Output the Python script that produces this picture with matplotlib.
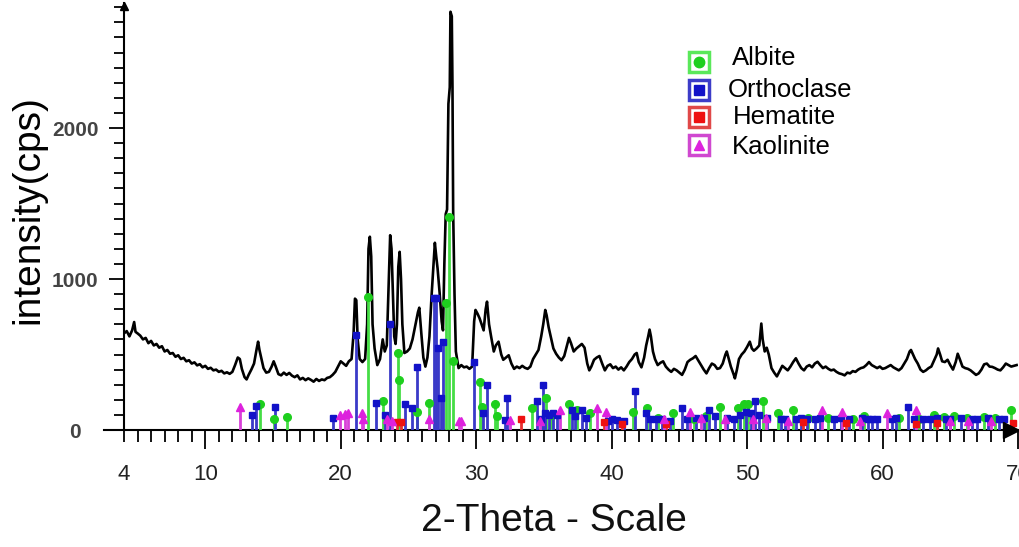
import matplotlib
matplotlib.use('Agg')
import matplotlib.pyplot as plt
from matplotlib.ticker import MultipleLocator

# 衍射曲线 (2θ, cps)
two_theta = [
    4.0, 4.2, 4.4, 4.6, 4.75, 4.85, 5.0, 5.2, 5.4, 5.6,
    5.8, 6.0, 6.2, 6.4, 6.6, 6.8, 7.0, 7.2, 7.4, 7.6,
    7.8, 8.0, 8.2, 8.4, 8.6, 8.8, 9.0, 9.2, 9.4, 9.6,
    9.8, 10.0, 10.2, 10.4, 10.6, 10.8, 11.0, 11.2, 11.4, 11.6,
    11.8, 12.0, 12.2, 12.4, 12.55, 12.7, 12.9, 13.05, 13.2, 13.4,
    13.6, 13.8, 13.9, 14.0, 14.15, 14.3, 14.5, 14.7, 14.9, 15.05,
    15.2, 15.4, 15.6, 15.8, 16.0, 16.2, 16.4, 16.6, 16.8, 17.0,
    17.2, 17.4, 17.6, 17.8, 18.0, 18.2, 18.4, 18.6, 18.8, 19.0,
    19.2, 19.4, 19.6, 19.8, 20.0, 20.2, 20.4, 20.6, 20.8, 20.95,
    21.05, 21.15, 21.25, 21.4, 21.6, 21.8, 21.95, 22.05, 22.15, 22.25,
    22.35, 22.5, 22.7, 22.9, 23.1, 23.25, 23.4, 23.55, 23.65, 23.75,
    23.85, 23.95, 24.05, 24.15, 24.25, 24.35, 24.45, 24.55, 24.7, 24.9,
    25.1, 25.3, 25.5, 25.7, 25.8, 25.95, 26.1, 26.25, 26.4, 26.55,
    26.7, 26.85, 26.95, 27.05, 27.15, 27.3, 27.45, 27.55, 27.65, 27.75,
    27.85, 27.95, 28.05, 28.1, 28.2, 28.25, 28.3, 28.4, 28.5, 28.7,
    28.9, 29.1, 29.3, 29.5, 29.7, 29.85, 29.95, 30.1, 30.25, 30.4,
    30.55, 30.7, 30.8, 30.95, 31.1, 31.3, 31.45, 31.65, 31.85, 32.0,
    32.2, 32.4, 32.6, 32.8, 33.0, 33.2, 33.4, 33.6, 33.8, 34.0,
    34.2, 34.4, 34.6, 34.8, 34.95, 35.1, 35.2, 35.35, 35.5, 35.7,
    35.9, 36.1, 36.3, 36.5, 36.7, 36.85, 37.0, 37.2, 37.4, 37.6,
    37.8, 38.0, 38.2, 38.35, 38.5, 38.7, 38.9, 39.1, 39.3, 39.5,
    39.7, 39.9, 40.1, 40.3, 40.5, 40.7, 40.9, 41.1, 41.3, 41.5,
    41.7, 41.85, 42.0, 42.2, 42.4, 42.55, 42.7, 42.8, 42.9, 43.05,
    43.2, 43.4, 43.6, 43.8, 44.0, 44.2, 44.4, 44.6, 44.8, 45.0,
    45.2, 45.4, 45.6, 45.8, 46.0, 46.2, 46.4, 46.6, 46.8, 47.0,
    47.2, 47.4, 47.6, 47.8, 48.0, 48.2, 48.4, 48.5, 48.65, 48.8,
    49.0, 49.1, 49.25, 49.4, 49.6, 49.8, 50.0, 50.2, 50.35, 50.5,
    50.7, 50.9, 51.0, 51.05, 51.15, 51.3, 51.45, 51.6, 51.8, 52.0,
    52.2, 52.4, 52.6, 52.8, 53.0, 53.2, 53.4, 53.6, 53.8, 54.0,
    54.2, 54.4, 54.6, 54.8, 55.0, 55.2, 55.4, 55.6, 55.8, 56.0,
    56.2, 56.4, 56.6, 56.8, 57.0, 57.2, 57.4, 57.6, 57.8, 58.0,
    58.2, 58.4, 58.6, 58.8, 59.0, 59.2, 59.4, 59.6, 59.8, 60.0,
    60.2, 60.4, 60.6, 60.8, 61.0, 61.2, 61.4, 61.6, 61.8, 62.0,
    62.1, 62.25, 62.4, 62.6, 62.8, 63.0, 63.2, 63.4, 63.6, 63.8,
    64.0, 64.1, 64.25, 64.4, 64.6, 64.8, 65.0, 65.2, 65.4, 65.55,
    65.7, 65.9, 66.1, 66.3, 66.5, 66.7, 66.9, 67.1, 67.3, 67.5,
    67.7, 67.9, 68.1, 68.3, 68.5, 68.7, 68.9, 69.1, 69.3, 69.5,
    69.7, 69.9,
]
intensity = [
    640, 655, 620, 660, 715, 650, 640, 625, 600, 610,
    575, 590, 560, 570, 545, 555, 520, 530, 505, 510,
    485, 495, 470, 478, 455, 462, 440, 448, 428, 436,
    415, 425, 405, 412, 395, 400, 385, 392, 375, 382,
    372, 385, 430, 480, 470, 405, 350, 335, 365, 400,
    440, 540, 585, 530, 470, 410, 380, 385, 420, 455,
    420, 370, 362, 380, 365, 378, 360, 350, 362, 335,
    345, 330, 342, 332, 320, 338, 325, 335, 330, 345,
    350, 365, 385, 420, 455, 440, 425, 455, 470, 640,
    870, 860, 600, 470, 450, 470, 700, 1200, 1280, 1150,
    700, 540, 430, 470, 600, 520, 560, 1000, 1290, 1200,
    900, 620, 570, 700, 1080, 1180, 1000, 700, 510, 520,
    540, 600, 690, 780, 810, 640, 480, 420, 480, 620,
    880, 1100, 1240, 1150, 1070, 910, 720, 660, 1100, 1430,
    1460, 2160, 2270, 2770, 2740, 2270, 1450, 900, 520, 410,
    430, 415, 420, 405, 420, 720, 795, 770, 740, 700,
    660, 800, 850, 700, 620, 520, 560, 585, 500, 465,
    480, 495, 440, 405, 420, 410, 425, 412, 405, 420,
    470, 500, 530, 620, 700, 795, 760, 680, 620, 540,
    505, 480, 462, 490, 560, 610, 575, 520, 540, 555,
    570, 545, 440, 395, 420, 465, 480, 490, 440, 395,
    425, 435, 410, 420, 400, 415, 395, 420, 450, 470,
    500, 510, 450, 415, 480, 560, 620, 665, 620, 520,
    470, 430, 445, 455, 420, 400, 385, 405, 395, 380,
    365, 400, 450, 465, 475, 490, 460, 430, 400, 375,
    410, 440, 430, 405, 410, 440, 500, 520, 470, 420,
    370, 342, 400, 470, 500, 520, 550, 585, 540, 525,
    540, 560, 660, 705, 600, 520, 545, 500, 410, 380,
    355, 390, 425, 410, 395, 420, 450, 475, 440, 410,
    395, 420, 430, 415, 440, 452, 430, 410, 420, 405,
    395, 400, 385, 375, 370, 362, 380, 375, 390, 385,
    400, 410, 415, 430, 450, 430, 420, 410, 420, 405,
    410, 420, 430, 415, 405, 395, 410, 440, 470, 520,
    530, 500, 470, 440, 400, 385, 395, 410, 420, 460,
    500, 540, 500, 455, 450, 465, 430, 400, 450, 505,
    470, 420, 410, 405, 395, 380, 365, 375, 400, 435,
    440, 420, 418, 410, 400, 395, 415, 440, 430, 420,
    425, 430,
]

# 物相标准卡片 (峰位, 高度)
albite_pos = [14.05, 15.1, 16.0, 22.05, 23.15, 24.25, 24.3, 25.6, 26.55, 27.8,
              28.0, 28.3, 30.25, 30.45, 31.4, 31.55, 34.1, 35.15, 35.5, 36.85,
              37.45, 38.4, 41.55, 42.6, 43.4, 44.5, 46.1, 47.0, 48.0, 49.3,
              49.8, 50.05, 51.2, 52.3, 53.4, 54.5, 56.0, 57.8, 58.6, 61.2,
              62.7, 63.8, 64.5, 65.3, 66.2, 67.5, 68.3, 69.5]
albite_int = [175, 70, 88, 880, 195, 510, 330, 120, 180, 840,
              1410, 455, 320, 150, 175, 90, 145, 210, 100, 175,
              130, 110, 120, 145, 80, 110, 70, 90, 155, 145,
              175, 175, 190, 110, 130, 80, 80, 70, 90, 80,
              70, 100, 85, 90, 80, 85, 80, 130]

orthoclase_pos = [13.45, 13.75, 15.15, 19.45, 21.12, 22.6, 23.26, 23.63, 24.74, 25.23,
                  25.6, 26.85, 27.05, 27.15, 27.4, 27.55, 29.83, 30.5, 30.77, 32.1,
                  32.3, 34.46, 34.75, 34.9, 35.1, 35.4, 35.7, 36.0, 37.1, 37.3,
                  37.8, 38.1, 39.7, 40.0, 40.4, 40.9, 41.7, 42.55, 42.8, 43.3,
                  43.7, 44.3, 45.2, 45.6, 46.2, 46.8, 47.2, 47.6, 48.5, 49.0,
                  49.5, 49.9, 50.3, 50.6, 50.85, 51.5, 52.5, 52.8, 53.6, 54.0,
                  54.4, 55.0, 55.4, 56.4, 56.9, 57.5, 58.5, 58.9, 59.2, 59.6,
                  60.7, 61.0, 61.9, 62.3, 63.0, 63.5, 64.0, 64.7, 65.0, 65.8,
                  66.6, 67.0, 67.8, 68.6, 69.0]
orthoclase_int = [100, 160, 150, 77, 630, 180, 100, 705, 175, 145,
                  415, 875, 875, 540, 210, 585, 452, 110, 298, 66,
                  210, 195, 70, 298, 110, 100, 110, 100, 130, 90,
                  130, 80, 60, 70, 65, 60, 255, 115, 75, 70,
                  70, 60, 145, 70, 80, 80, 130, 90, 80, 75,
                  100, 120, 110, 190, 100, 80, 70, 75, 70, 80,
                  75, 70, 80, 75, 80, 70, 80, 70, 75, 70,
                  70, 80, 155, 70, 75, 70, 80, 75, 70, 80,
                  75, 70, 80, 70, 75]

hematite_pos = [24.15, 24.45, 33.3, 39.4, 40.8, 44.0, 54.1, 57.3, 62.5, 64.0, 69.6]
hematite_int = [55, 50, 70, 55, 40, 40, 50, 45, 40, 45, 45]

kaolinite_pos = [12.55, 19.95, 20.3, 20.55, 21.55, 21.65, 23.45, 23.8, 26.55, 28.7,
                 28.85, 32.5, 34.7, 36.2, 38.9, 39.6, 43.9, 45.8, 46.6, 48.4,
                 50.4, 51.4, 53.0, 55.5, 57.0, 58.3, 60.3, 62.5, 65.0, 66.3, 68.0]
kaolinite_int = [155, 99, 105, 110, 110, 75, 70, 60, 70, 60,
                 60, 66, 60, 130, 145, 120, 70, 120, 80, 70,
                 70, 80, 60, 130, 120, 60, 110, 130, 60, 60, 60]

phase_names = ['Albite', 'Orthoclase', 'Hematite', 'Kaolinite']
x_ticks = [4, 10, 20, 30, 40, 50, 60, 70]
y_ticks = [0, 1000, 2000]

W, H = 1020, 547


def fx(px):
    return px / W


def fy(py):
    return 1 - py / H


def plot():
    fig = plt.figure(figsize=(W / 100, H / 100), dpi=100)
    fig.patch.set_facecolor('white')
    ax = fig.add_axes([fx(124), fy(430), (1018 - 124) / W, 427.3 / H])

    ax.plot(two_theta, intensity, color='black', lw=1.9, zorder=2)

    # 各物相的竖线 + 顶部标记
    phases = [
        (albite_pos, albite_int, '#45dd45', '#1ecf1e', 'o', 5.5),
        (orthoclase_pos, orthoclase_int, '#3a3ac8', '#1212c8', 's', 5),
        (hematite_pos, hematite_int, '#e83030', '#ee1111', 's', 5),
        (kaolinite_pos, kaolinite_int, '#d840d8', '#dd22dd', '^', 5.5),
    ]
    for pos, hgt, lc, mc, mk, ms in phases:
        ax.vlines(pos, 0, hgt, colors=lc, lw=2, zorder=3)
        ax.plot(pos, hgt, ls='none', marker=mk, ms=ms, color=mc, zorder=4)

    ax.set_xlim(4, 70)
    ax.set_ylim(0, 2830)

    for s in ['top', 'right']:
        ax.spines[s].set_visible(False)
    for s in ['left', 'bottom']:
        ax.spines[s].set_linewidth(1.5)

    # x 轴向左稍微伸出, 两端箭头
    ax.plot([-20 / 894, 0], [0, 0], color='black', lw=1.5,
            transform=ax.transAxes, clip_on=False)
    ax.plot([0], [0.992], marker='^', ms=6, color='black',
            transform=ax.transAxes, clip_on=False)
    ax.plot([(1011 - 124) / 894], [0], marker='>', ms=11, color='black',
            transform=ax.transAxes, clip_on=False, zorder=5)

    ax.set_xticks(x_ticks)
    ax.set_xticklabels([str(t) for t in x_ticks], fontsize=16, color='#222222',
                       family=['Liberation Sans Narrow', 'Liberation Sans', 'DejaVu Sans'])
    ax.xaxis.set_minor_locator(MultipleLocator(1))
    ax.tick_params(axis='x', which='major', direction='out', length=13.5, width=1.3, pad=11)
    ax.tick_params(axis='x', which='minor', direction='out', length=8.5, width=1.3)
    ax.xaxis.get_major_ticks()[0].tick1line.set_markersize(8.5)

    ax.set_yticks(y_ticks)
    ax.set_yticklabels([str(t) for t in y_ticks], fontsize=15, color='#444444',
                       fontweight='bold', family=['Liberation Sans', 'DejaVu Sans'])
    ax.yaxis.set_minor_locator(MultipleLocator(100))
    ax.tick_params(axis='y', which='major', direction='out', length=11, width=1.3, pad=24)
    ax.tick_params(axis='y', which='minor', direction='out', length=7.5, width=1.3)
    for lab in ax.get_yticklabels():
        lab.set_horizontalalignment('center')

    fig.text(fx(28), fy(210), 'intensity(cps)', rotation=90, ha='center', va='center',
             fontsize=28, family=['Liberation Sans', 'DejaVu Sans'])
    fig.text(fx(554), fy(521), '2-Theta - Scale', ha='center', va='center',
             fontsize=28, color='#111111', family=['Liberation Sans', 'DejaVu Sans'])

    # 图例
    box_y = [62, 89.5, 117, 145]
    text_x = [732, 728, 733, 732]
    text_y = [58, 90, 117, 147]
    edge_c = ['#5ae85a', '#3c3cc8', '#e04848', '#d048d0']
    for i, (pos, hgt, lc, mc, mk, ms) in enumerate(phases):
        fig.add_artist(plt.Line2D([fx(699)], [fy(box_y[i])], marker='s', ms=15,
                                  mfc='white', mec=edge_c[i], mew=2.5,
                                  transform=fig.transFigure))
        fig.add_artist(plt.Line2D([fx(699)], [fy(box_y[i])], marker=mk, ms=7.5,
                                  color=mc, transform=fig.transFigure))
        fig.text(fx(text_x[i]), fy(text_y[i]), phase_names[i], ha='left', va='center',
                 fontsize=18.5, family=['Liberation Sans', 'DejaVu Sans'])

    fig.savefig('out.png', dpi=100, facecolor='white')


if __name__ == '__main__':
    plot()
